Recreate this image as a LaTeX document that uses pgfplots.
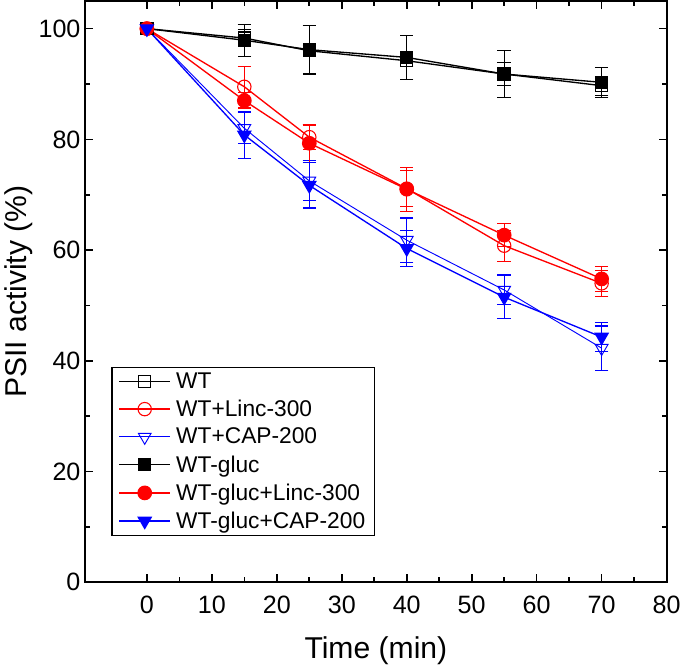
\documentclass[border=0pt]{standalone}
\usepackage{fontspec}
\setmainfont{Liberation Sans}
\usepackage{pgfplots}
\pgfplotsset{compat=1.18}

\begin{document}
\begin{tikzpicture}
\begin{axis}[
  width=434.5pt, height=434.5pt, scale only axis,
  xmin=-9.5, xmax=80, ymin=0, ymax=105,
  xtick={0,10,...,80}, minor x tick num=1,
  ytick={0,20,...,100}, minor y tick num=1,
  tick align=inside, major tick length=6pt, minor tick length=3.8pt,
  axis line style={line width=1.4pt},
  every tick/.style={line width=1.2pt, black},
  /pgf/number format/assume math mode=true,
  tick label style={font=\fontsize{18.75}{20}\selectfont},
  xticklabel style={anchor=base, yshift=-23pt},
  label style={font=\fontsize{22.5}{24}\selectfont},
  xlabel={Time (min)}, ylabel={PSII activity (\%)},
  xlabel style={at={(axis description cs:0.5,-0.1312)}, anchor=base},
  ylabel style={at={(axis description cs:-0.1013,0.5)}, anchor=base},
  legend cell align=left,
  legend style={at={(0.045,0.371)}, anchor=north west, draw=black, line width=0.9pt,
    font=\fontsize{17}{19}\selectfont, row sep=3.2pt, column sep=2pt, inner xsep=5pt, inner ysep=2pt},
  legend image code/.code={\draw[mark repeat=2,mark phase=2,#1] plot coordinates {(0pt,0pt) (19pt,0pt) (38pt,0pt)};},
  error bars/y dir=both, error bars/y explicit,
  error bars/error bar style={line width=0.8pt},
  error bars/error mark options={rotate=90, mark size=5pt, line width=0.8pt},
]
% WT
\addplot[black, line width=1pt, mark=square, mark size=4.5pt, mark options={fill=white, line width=0.8pt}]
  coordinates {(0,100) +- (0,0) (15,98.3) +- (0,1.5) (25,96.0) +- (0,1.0) (40,94.2) +- (0,1.0) (55,91.8) +- (0,2.0) (70,89.7) +- (0,1.7)};
% WT+Linc-300
\addplot[red, line width=1pt, mark=o, mark size=5pt, mark options={fill=white, line width=0.8pt}]
  coordinates {(0,100) +- (0,0) (15,89.5) +- (0,3.7) (25,80.4) +- (0,2.2) (40,71.1) +- (0,3.2) (55,60.8) +- (0,2.8) (70,54.0) +- (0,2.3)};
% WT+CAP-200
\addplot[blue, line width=0.7pt, mark=triangle, mark size=5.5pt, mark options={rotate=180, fill=white, line width=0.7pt}]
  coordinates {(0,100) +- (0,0) (15,82.0) +- (0,2.8) (25,72.5) +- (0,3.6) (40,61.8) +- (0,4.0) (55,52.8) +- (0,2.7) (70,42.3) +- (0,4.0)};
% WT-gluc
\addplot[black, line width=1pt, mark=square*, mark size=4.5pt, mark options={fill=black}]
  coordinates {(0,100) +- (0,0) (15,97.9) +- (0,2.9) (25,96.2) +- (0,4.4) (40,94.8) +- (0,4.0) (55,91.8) +- (0,4.3) (70,90.3) +- (0,2.7)};
% WT-gluc+Linc-300
\addplot[red, line width=1pt, mark=*, mark size=5pt, mark options={fill=red}]
  coordinates {(0,100) +- (0,0) (15,87.0) +- (0,1.5) (25,79.3) +- (0,3.4) (40,71.0) +- (0,4.0) (55,62.7) +- (0,2.1) (70,54.8) +- (0,2.2)};
% WT-gluc+CAP-200
\addplot[blue, line width=1pt, mark=triangle*, mark size=5.5pt, mark options={rotate=180, fill=blue}]
  coordinates {(0,100) +- (0,0) (15,80.8) +- (0,4.2) (25,71.7) +- (0,4.1) (40,60.3) +- (0,3.2) (55,51.5) +- (0,3.9) (70,44.3) +- (0,2.6)};
\legend{WT, WT+Linc-300, WT+CAP-200, WT-gluc, WT-gluc+Linc-300, WT-gluc+CAP-200}
\end{axis}
\end{tikzpicture}
\end{document}
